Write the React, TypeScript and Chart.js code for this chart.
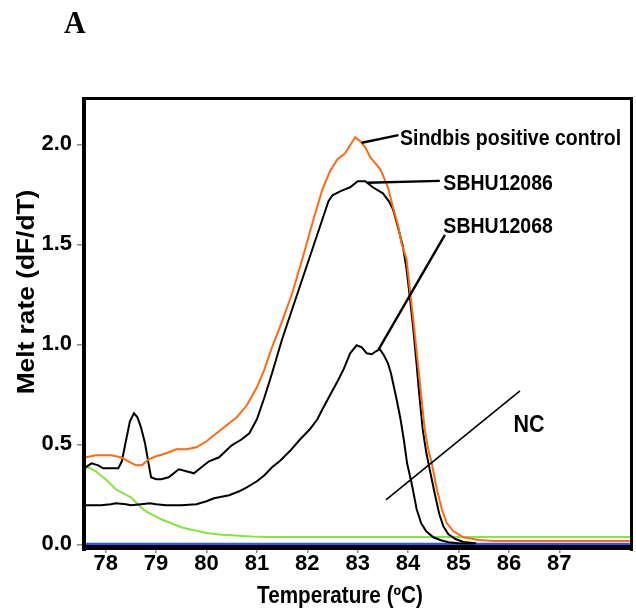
import React, { useEffect, useRef } from "react";
import { Chart, registerables } from "chart.js";

Chart.register(...registerables);

// ---- data ----
const sindbisTemp = [77.6, 77.8, 78.1, 78.3, 78.45, 78.6, 78.72, 78.85, 79.0, 79.2, 79.4, 79.6, 79.8, 80.0, 80.2, 80.4, 80.6, 80.8, 81.0, 81.15, 81.3, 81.5, 81.7, 81.9, 82.1, 82.3, 82.45, 82.6, 82.75, 82.85, 82.95, 83.05, 83.15, 83.25, 83.45, 83.6, 83.7, 83.8, 83.87, 83.97, 84.04, 84.12, 84.19, 84.26, 84.33, 84.4, 84.47, 84.57, 84.67, 84.77, 84.9, 85.1, 85.4, 85.7, 88.4];
const sindbisRate = [0.435, 0.445, 0.445, 0.435, 0.415, 0.395, 0.395, 0.425, 0.44, 0.455, 0.475, 0.475, 0.485, 0.515, 0.555, 0.595, 0.635, 0.695, 0.785, 0.875, 0.985, 1.115, 1.255, 1.425, 1.605, 1.775, 1.865, 1.925, 1.955, 1.995, 2.035, 2.015, 1.985, 1.935, 1.875, 1.785, 1.685, 1.595, 1.505, 1.425, 1.265, 1.085, 0.915, 0.745, 0.575, 0.475, 0.405, 0.275, 0.175, 0.105, 0.065, 0.035, 0.022, 0.016, 0.016];

const sbhu12086Temp = [77.6, 77.72, 77.85, 77.95, 78.25, 78.32, 78.4, 78.48, 78.56, 78.63, 78.7, 78.78, 78.85, 78.9, 79.0, 79.1, 79.25, 79.45, 79.6, 79.75, 79.9, 80.05, 80.25, 80.5, 80.7, 80.85, 81.0, 81.15, 81.3, 81.5, 81.7, 81.9, 82.1, 82.3, 82.42, 82.5, 82.65, 82.85, 83.0, 83.15, 83.3, 83.5, 83.62, 83.7, 83.8, 83.9, 83.97, 84.04, 84.1, 84.16, 84.22, 84.29, 84.36, 84.44, 84.54, 84.62, 84.7, 84.8, 84.95, 85.1, 85.35];
const sbhu12086Rate = [0.385, 0.405, 0.395, 0.38, 0.38, 0.415, 0.515, 0.615, 0.655, 0.635, 0.585, 0.505, 0.405, 0.335, 0.325, 0.325, 0.335, 0.375, 0.365, 0.355, 0.385, 0.415, 0.435, 0.495, 0.525, 0.555, 0.625, 0.735, 0.855, 1.025, 1.175, 1.325, 1.475, 1.625, 1.715, 1.745, 1.765, 1.785, 1.815, 1.815, 1.785, 1.755, 1.715, 1.675, 1.585, 1.485, 1.375, 1.225, 1.085, 0.925, 0.755, 0.575, 0.46, 0.36, 0.24, 0.15, 0.09, 0.05, 0.025, 0.012, 0.005];

const sbhu12068Temp = [77.6, 77.9, 78.1, 78.2, 78.4, 78.5, 78.7, 78.88, 79.0, 79.2, 79.5, 79.8, 80.0, 80.15, 80.45, 80.65, 80.8, 81.0, 81.15, 81.3, 81.45, 81.65, 81.86, 82.05, 82.2, 82.3, 82.45, 82.6, 82.72, 82.85, 82.98, 83.08, 83.18, 83.28, 83.36, 83.44, 83.52, 83.6, 83.66, 83.72, 83.78, 83.85, 83.92, 83.98, 84.07, 84.17, 84.26, 84.36, 84.5, 84.65, 84.8, 85.0, 85.3];
const sbhu12068Rate = [0.195, 0.195, 0.2, 0.205, 0.2, 0.195, 0.2, 0.205, 0.2, 0.195, 0.195, 0.2, 0.215, 0.23, 0.245, 0.265, 0.285, 0.315, 0.345, 0.385, 0.415, 0.465, 0.525, 0.575, 0.625, 0.675, 0.745, 0.815, 0.875, 0.955, 0.995, 0.985, 0.955, 0.95, 0.965, 0.975, 0.945, 0.905, 0.855, 0.785, 0.715, 0.625, 0.515, 0.405, 0.305, 0.175, 0.105, 0.065, 0.035, 0.02, 0.01, 0.005, 0.004];

const ncGreenTemp = [77.6, 77.7, 77.8, 77.9, 78.0, 78.1, 78.2, 78.35, 78.5, 78.6, 78.7, 78.8, 78.95, 79.1, 79.3, 79.5, 79.7, 79.85, 80.0, 80.3, 80.5, 80.7, 80.9, 81.2, 81.5, 88.4];
const ncGreenRate = [0.385, 0.38, 0.365, 0.345, 0.325, 0.3, 0.275, 0.255, 0.235, 0.21, 0.185, 0.165, 0.145, 0.125, 0.105, 0.085, 0.073, 0.065, 0.057, 0.048, 0.045, 0.042, 0.039, 0.037, 0.036, 0.036];

const ncBlueTemp = [77.6, 88.4];
const ncBlueRate = [0, 0];

const xTickValues = [78, 79, 80, 81, 82, 83, 84, 85, 86, 87];
const yTickValues = [0, 0.5, 1.0, 1.5, 2.0];

const xTitle = "Temperature (ºC)";
const yTitle = "Melt rate (dF/dT)";
const panelLabel = "A";

// annotation labels: leader start, leader end and text anchor in data units
const labelTexts = ["Sindbis positive control", "SBHU12086", "SBHU12068", "NC"];
const leaderStartT = [83.08, 83.18, 83.41, 83.56];
const leaderStartR = [2.008, 1.808, 0.972, 0.222];
const leaderEndT = [83.81, 84.63, 84.73, 86.22];
const leaderEndR = [2.046, 1.817, 1.547, 0.767];
const textT = [83.84, 84.70, 84.70, 86.09];
const textR = [1.997, 1.772, 1.556, 0.563];

const pts = (xs: number[], ys: number[]) => xs.map((x, i) => ({ x, y: ys[i] }));

const SANS = "'Liberation Sans', Arial, Helvetica, sans-serif";
const STRETCH = 1.12;

function stretchedText(
  ctx: CanvasRenderingContext2D,
  text: string,
  x: number,
  y: number,
  font: string,
  align: CanvasTextAlign,
  sy: number,
  rotate = false
) {
  ctx.save();
  ctx.translate(x, y);
  ctx.scale(1, sy);
  if (rotate) ctx.rotate(-Math.PI / 2);
  ctx.font = font;
  ctx.fillStyle = "#000";
  ctx.textAlign = align;
  ctx.textBaseline = rotate ? "middle" : "alphabetic";
  ctx.fillText(text, 0, 0);
  ctx.restore();
}

const framePlugin = {
  id: "frameAndLabels",
  afterDatasetsDraw(chart: any) {
    const { ctx, chartArea } = chart;
    const { left, right, top, bottom } = chartArea;
    const xs = chart.scales.x;
    const ys = chart.scales.y;
    ctx.save();
    ctx.fillStyle = "#000";
    ctx.fillRect(left - 4, top - 3, 4, bottom - top + 8);
    ctx.fillRect(left - 4, top - 3, right - left + 7, 3);
    ctx.fillRect(right, top - 3, 3, bottom - top + 8);
    ctx.fillRect(left - 4, bottom - 1, right - left + 7, 5);

    // leader lines
    ctx.strokeStyle = "#000";
    ctx.lineCap = "butt";
    labelTexts.forEach((_, i) => {
      ctx.lineWidth = i === 3 ? 1.6 : 2.4;
      ctx.beginPath();
      ctx.moveTo(xs.getPixelForValue(leaderStartT[i]), ys.getPixelForValue(leaderStartR[i]));
      ctx.lineTo(xs.getPixelForValue(leaderEndT[i]), ys.getPixelForValue(leaderEndR[i]));
      ctx.stroke();
    });
    labelTexts.forEach((t, i) => {
      const size = i === 3 ? 21.5 : 19.5;
      stretchedText(
        ctx,
        t,
        xs.getPixelForValue(textT[i]),
        ys.getPixelForValue(textR[i]),
        `bold ${size}px ${SANS}`,
        "left",
        STRETCH
      );
    });

    // axis titles
    stretchedText(ctx, xTitle, 340, 602.5, `bold 20.7px ${SANS}`, "center", STRETCH);
    stretchedText(ctx, yTitle, 28, 292, `bold 23.5px ${SANS}`, "center", STRETCH, true);
    // panel letter
    stretchedText(ctx, panelLabel, 64, 32.5, `bold 30px 'Liberation Serif', 'Times New Roman', serif`, "left", 1.04);
    ctx.restore();
  },
};

export default function App() {
  const canvasRef = useRef<HTMLCanvasElement | null>(null);

  useEffect(() => {
    if (!canvasRef.current) return;
    const tickFont = { family: SANS, size: 22, weight: "bold" as const };
    const chart = new Chart(canvasRef.current, {
      type: "line",
      data: {
        datasets: [
          { label: "Sindbis positive control", data: pts(sindbisTemp, sindbisRate), borderColor: "#ff6a10", borderWidth: 2 },
          { label: "SBHU12086", data: pts(sbhu12086Temp, sbhu12086Rate), borderColor: "#000000", borderWidth: 2 },
          { label: "SBHU12068", data: pts(sbhu12068Temp, sbhu12068Rate), borderColor: "#000000", borderWidth: 2 },
          { label: "NC green", data: pts(ncGreenTemp, ncGreenRate), borderColor: "#84e63c", borderWidth: 2 },
          { label: "NC blue", data: pts(ncBlueTemp, ncBlueRate), borderColor: "#2b56f0", borderWidth: 3 },
        ],
      },
      options: {
        responsive: false,
        animation: false,
        devicePixelRatio: 1,
        parsing: true,
        elements: { point: { radius: 0 }, line: { tension: 0, fill: false } },
        layout: { padding: { left: 0, right: 6, top: 100, bottom: 0 } },
        plugins: { legend: { display: false }, tooltip: { enabled: false }, title: { display: false } },
        scales: {
          x: {
            type: "linear",
            min: 77.609,
            max: 88.403,
            afterBuildTicks: (s: any) => {
              s.ticks = xTickValues.map((v) => ({ value: v }));
            },
            afterFit: (s: any) => {
              s.height = 63;
            },
            border: { display: false },
            grid: { display: true, drawOnChartArea: false, drawTicks: true, tickLength: 7, color: "#8c8c8c", lineWidth: 1.5 },
            ticks: {
              font: tickFont,
              color: "#000",
              padding: -2,
              maxRotation: 0,
              autoSkip: false,
              callback: (v: any) => String(v),
            },
          },
          y: {
            type: "linear",
            min: -0.0085,
            max: 2.2215,
            afterBuildTicks: (s: any) => {
              s.ticks = yTickValues.map((v) => ({ value: v }));
            },
            afterFit: (s: any) => {
              s.width = 86;
            },
            border: { display: false },
            grid: { display: true, drawOnChartArea: false, drawTicks: true, tickLength: 9, color: "#8c8c8c", lineWidth: 1.5 },
            ticks: {
              font: tickFont,
              color: "#000",
              padding: 5,
              autoSkip: false,
              callback: (v: any) => Number(v).toFixed(1),
            },
          },
        },
      },
      plugins: [framePlugin],
    });
    return () => chart.destroy();
  }, []);

  return (
    <div style={{ position: "absolute", left: 0, top: 0, width: 636, height: 609, background: "#fff" }}>
      <canvas ref={canvasRef} width={636} height={609} style={{ display: "block" }} />
    </div>
  );
}
